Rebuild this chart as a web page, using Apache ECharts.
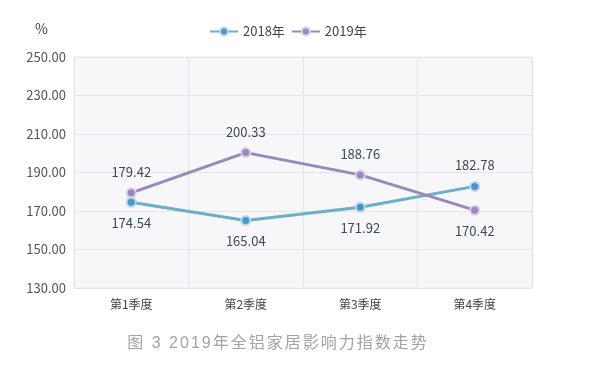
<!DOCTYPE html>
<html><head><meta charset="utf-8">
<script src="https://cdn.jsdelivr.net/npm/echarts@6/dist/echarts.min.js"></script>
<style>
html,body{margin:0;padding:0;background:#fff;}
#wrap{position:relative;width:597px;height:370px;}
#c{width:597px;height:370px;}
#cap{position:absolute;left:0;width:556px;top:329px;text-align:center;font-size:16px;color:#a3a3a3;letter-spacing:2.0px;font-family:"Liberation Sans","Noto Sans CJK SC",sans-serif;}
</style>
</head><body><div id="wrap"><div id="c"></div><div id="cap"></div></div>
<script>
const categories = ['第1季度','第2季度','第3季度','第4季度'];
const values2018 = [174.54, 165.04, 171.92, 182.78];
const values2019 = [179.42, 200.33, 188.76, 170.42];
const labelPos2018 = ['bottom','bottom','bottom','top'];
const labelPos2019 = ['top','top','top','bottom'];
const yTicks = {min:130, max:250, interval:20};
const captionText = '图 3 2019年全铝家居影响力指数走势';

document.getElementById('cap').textContent = captionText;
const chart = echarts.init(document.getElementById('c'), null, {renderer:'canvas'});
const font = '"Microsoft YaHei","Noto Sans CJK SC","Open Sans",sans-serif';
function mk(vals, pos){ return vals.map((v,i)=>({value:v,label:{position:pos[i]}})); }
chart.setOption({
  animation:false,
  textStyle:{fontFamily:font},
  legend:{
    top:20, left:204, itemWidth:28, itemHeight:10, itemGap:6,
    textStyle:{fontSize:13, color:'#444', fontFamily:font},
    data:['2018年','2019年']
  },
  grid:{left:74, right:65, top:57, bottom:82, show:true, backgroundColor:'#f7f7f9', borderColor:'#e8e6ea', borderWidth:1},
  xAxis:{
    type:'category', data:categories, boundaryGap:true,
    axisLine:{show:false}, axisTick:{show:false},
    axisLabel:{fontSize:12, color:'#444', margin:10, fontFamily:font},
    splitLine:{show:true, lineStyle:{color:'#e6e4e8'}}
  },
  yAxis:{
    type:'value', min:yTicks.min, max:yTicks.max, interval:yTicks.interval,
    name:'%', nameLocation:'end', nameGap:21,
    nameTextStyle:{fontSize:14, color:'#444', align:'right', padding:[0,26,0,0]},
    axisLine:{show:false}, axisTick:{show:false},
    axisLabel:{fontSize:13, color:'#555', margin:8, formatter:v=>v.toFixed(2), fontFamily:font},
    splitLine:{lineStyle:{color:'#e6e4e8'}}
  },
  series:[
    {name:'2018年', type:'line', data:mk(values2018,labelPos2018), symbol:'circle', symbolSize:9,
     lineStyle:{color:'#6aaec8', width:3},
     itemStyle:{color:'#4d94c9', borderColor:'#b8d8ee', borderWidth:2},
     label:{show:true, distance:9, fontSize:13, color:'#3c4858', formatter:p=>p.value.toFixed(2), fontFamily:font}},
    {name:'2019年', type:'line', data:mk(values2019,labelPos2019), symbol:'circle', symbolSize:9,
     lineStyle:{color:'#9a88bd', width:3},
     itemStyle:{color:'#9a88bd', borderColor:'#d8cfe8', borderWidth:2},
     label:{show:true, distance:9, fontSize:13, color:'#3c4858', formatter:p=>p.value.toFixed(2), fontFamily:font}}
  ]
});
</script></body></html>
